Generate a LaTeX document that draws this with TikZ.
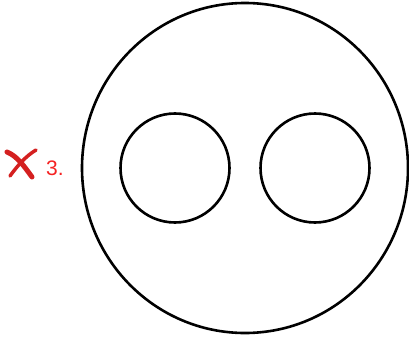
\documentclass[tikz,border=0pt]{standalone}
\usepackage{fontspec}
\setmainfont{Liberation Sans}
\definecolor{markred}{HTML}{D42020}
\definecolor{textred}{HTML}{F52222}
\begin{document}
\begin{tikzpicture}[x=1pt,y=-1pt,
  ring/.style={draw=black,line width=2.6pt},
  xstroke/.style={draw=markred,line cap=round,line width=4.5pt}]
\useasboundingbox (0,0) rectangle (409,337);
% outer circle
\draw[ring] (245,168) ellipse [x radius=163, y radius=165];
% inner circles
\draw[ring] (175,168) circle [radius=54.5];
\draw[ring] (315,168) circle [radius=54.5];
% red cross mark
\draw[xstroke,line width=5pt] (7,152) .. controls (17,156) and (24,166) .. (32,177);
\draw[xstroke,line width=3.5pt] (10,176) .. controls (18,165) and (26,156) .. (36,150);
\node[text=textred,font=\fontsize{21}{24}\selectfont,inner sep=0pt,anchor=base west] (num) at (46,175) {3.};
\end{tikzpicture}
\end{document}
